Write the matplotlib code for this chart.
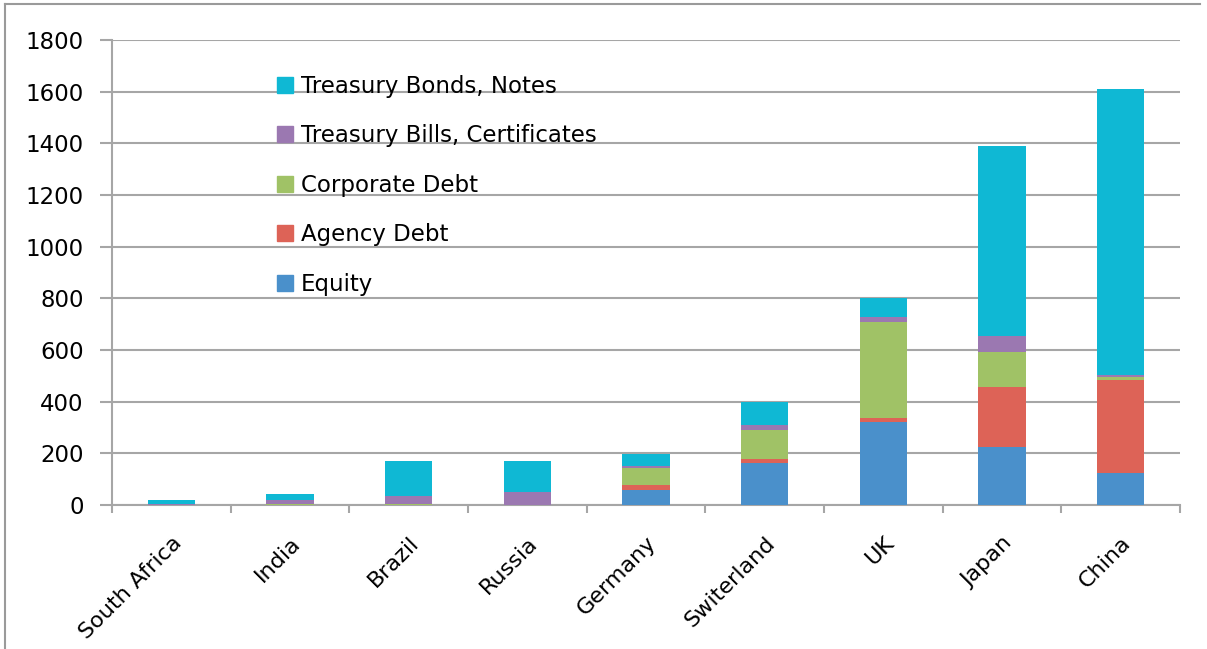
import numpy as np
import matplotlib.pyplot as plt
from matplotlib.lines import Line2D

# data
countries = ["South Africa", "India", "Brazil", "Russia", "Germany",
             "Switerland", "UK", "Japan", "China"]
equity = [0, 0, 0, 0, 58, 161, 321, 223, 125]
agency = [0, 0, 0, 0, 18, 18, 14, 235, 360]
corporate = [0, 5, 5, 0, 67, 111, 372, 135, 12]
bills = [2, 15, 30, 50, 8, 21, 19, 62, 7]
bonds = [16, 22, 135, 120, 46, 88, 74, 735, 1108]

series = [("Equity", equity, "#4a90cb"),
          ("Agency Debt", agency, "#dd6357"),
          ("Corporate Debt", corporate, "#a0c266"),
          ("Treasury Bills, Certificates", bills, "#9b78b1"),
          ("Treasury Bonds, Notes", bonds, "#0fb8d4")]

plt.rcParams['font.family'] = ['DejaVu Sans']

fig = plt.figure(figsize=(12.07, 6.49), dpi=100)
ax = fig.add_axes([112/1207, 1 - 505/649, (1180-112)/1207, (505-40)/649])

x = np.arange(len(countries))
bottom = np.zeros(len(countries))
handles = []
for name, vals, col in series:
    vals = np.array(vals, dtype=float)
    ax.bar(x, vals, 0.4, bottom=bottom, color=col, zorder=3)
    bottom += vals
    handles.append(plt.Rectangle((0, 0), 1, 1, color=col, label=name))

ax.set_xlim(-0.5, len(countries) - 0.5)
ax.set_ylim(0, 1800)
ax.set_yticks(range(0, 1801, 200))
ax.grid(axis="y", color="#a6a6a6", linewidth=1.5, zorder=0)

# tick marks between categories
ax.set_xticks(x)
ax.set_xticklabels(countries, rotation=45, ha="right", rotation_mode="anchor",
                   fontsize=16)
ax.tick_params(axis="x", length=0, pad=20)
ax.set_xticks(np.arange(-0.5, len(countries) + 0.5, 1), minor=True)
ax.tick_params(axis="x", which="minor", length=6, width=1.5, color="#a6a6a6")
ax.tick_params(axis="y", length=8.5, width=1.5, color="#a6a6a6", labelsize=16.5,
               pad=12)

for s in ["top", "right"]:
    ax.spines[s].set_visible(False)
for s in ["left", "bottom"]:
    ax.spines[s].set_color("#a6a6a6")
    ax.spines[s].set_linewidth(1.5)

leg = ax.legend(handles=handles[::-1], loc="upper left",
                bbox_to_anchor=(0.135, 0.97), frameon=False, fontsize=16.5,
                handlelength=0.7, handleheight=0.7, labelspacing=1.16,
                handletextpad=0.35)

# outer chart frame (top and left edges visible)
fig.add_artist(Line2D([5/1207, 1200/1207], [1 - 4/649, 1 - 4/649],
                      color="#9a9a9a", linewidth=1.5))
fig.add_artist(Line2D([5/1207, 5/1207], [0, 1 - 4/649],
                      color="#9a9a9a", linewidth=1.5))

plt.savefig("out.png", dpi=100)
